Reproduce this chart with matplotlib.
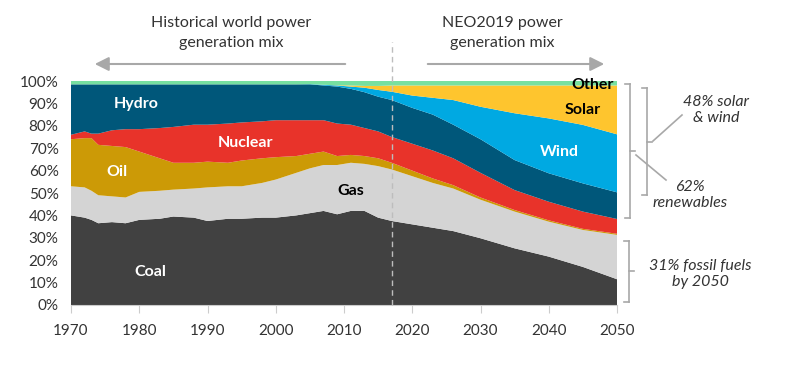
import numpy as np
import matplotlib.pyplot as plt
from matplotlib.lines import Line2D

plt.rcParams['font.family'] = ['Lato', 'DejaVu Sans']

# share of world power generation, %
years = [1970, 1972, 1973, 1974, 1976, 1978, 1980, 1983, 1985, 1988, 1990,
         1993, 1995, 1998, 2000, 2003, 2005, 2007, 2009, 2011, 2013, 2015,
         2017, 2020, 2023, 2026, 2030, 2035, 2040, 2045, 2050]
coal = [40, 39, 38, 36.5, 37, 36.5, 38, 38.5, 39.5, 39, 37.5,
        38.5, 38.5, 39, 39, 40, 41, 42, 40.5, 42, 42, 39,
        37.5, 36, 34.5, 33, 29.8, 25.3, 21.6, 17, 11.5]
gas = [13, 13.5, 13, 12.5, 11.5, 11.5, 12.5, 12.5, 12, 13, 15,
       14.5, 14.5, 15.5, 17, 19, 20, 20.5, 22, 21.5, 21, 23,
       23, 21.5, 20, 19, 17.2, 16.4, 15.6, 16.5, 19.8]
oil = [21, 22, 23.5, 22.5, 22.5, 22.5, 18, 14.5, 12, 11.5, 11.5,
       10.5, 11.5, 11, 10, 7.5, 6.5, 6, 4, 3.5, 3.5, 3.5,
       3, 2.5, 2, 1.5, 1, 0.7, 0.6, 0.5, 0.5]
nuclear = [2, 3, 2, 5, 7, 8, 10, 13.5, 16, 17, 16.5,
           17.5, 17, 16.5, 16.5, 16, 15, 14, 14.5, 13.5, 12.5, 12,
           11.5, 12, 12.5, 12, 11, 8.9, 8.3, 7.7, 6.6]
hydro = [22.5, 21, 22, 22, 20.5, 20, 20, 19.5, 19, 18, 18,
         17.5, 17, 16.5, 16, 16, 16, 15.5, 16.5, 16, 16, 15.5,
         16.5, 16, 16, 15, 15, 13.4, 12.7, 12.6, 11.9]
wind = [0, 0, 0, 0, 0, 0, 0, 0, 0, 0, 0,
        0, 0, 0, 0, 0, 0.1, 0.3, 0.5, 1, 2, 3,
        3.7, 5.5, 7.5, 11, 14.5, 20.9, 24.5, 26.1, 25.9]
solar = [0, 0, 0, 0, 0, 0, 0, 0, 0, 0, 0,
         0, 0, 0, 0, 0, 0, 0, 0.1, 0.5, 0.8, 1.8,
         2.8, 4.5, 5.5, 6.5, 9.5, 12.4, 14.7, 17.6, 21.8]
other = [1.5, 1.5, 1.5, 1.5, 1.5, 1.5, 1.5, 1.5, 1.5, 1.5, 1.5,
         1.5, 1.5, 1.5, 1.5, 1.5, 1.4, 1.7, 1.9, 2, 2.2, 2.2,
         2, 2, 2, 2, 2, 2, 2, 2, 2]

colors = ['#414141', '#d4d4d4', '#cc9a06', '#e8332a', '#00577a',
          '#00a9e2', '#fec52e', '#77e0a0']
text_col = '#333333'
grey = '#a8a8a8'

W, H = 785, 382


def fp(x, y):
    # pixel position (from top left) -> figure fraction
    return x / W, 1 - y / H


fig = plt.figure(figsize=(7.85, 3.82), dpi=100)
ax = fig.add_axes([71 / W, 1 - 305 / H, 546 / W, 224 / H])

ax.stackplot(years, coal, gas, oil, nuclear, hydro, wind, solar, other,
             colors=colors, linewidth=0)
ax.set_xlim(1970, 2050)
ax.set_ylim(0, 100)

ax.set_yticks(range(0, 101, 10))
ax.set_yticklabels([f'{v}%' for v in range(0, 101, 10)])
ax.set_xticks(range(1970, 2051, 10))
ax.tick_params(axis='y', length=0, pad=9, labelsize=11, labelcolor=text_col)
ax.tick_params(axis='x', length=6, color='#cccccc', pad=8, labelsize=11,
               labelcolor=text_col)
for s in ['top', 'right', 'left']:
    ax.spines[s].set_visible(False)
ax.spines['bottom'].set_color('#cccccc')

# projection start
ax.plot([2017, 2017], [0, 117.5], color='#bdbdbd', lw=1, ls=(0, (4, 3)),
        clip_on=False, zorder=5)

# series labels
lab = dict(fontsize=11.5, fontweight='bold', ha='center', va='center')
ax.text(1979.5, 89.7, 'Hydro', color='white', **lab)
ax.text(1995.6, 72.2, 'Nuclear', color='white', **lab)
ax.text(1976.7, 59.5, 'Oil', color='white', **lab)
ax.text(2011, 51, 'Gas', color='black', **lab)
ax.text(1981.6, 14.9, 'Coal', color='white', **lab)
ax.text(2041.5, 68.4, 'Wind', color='white', **lab)
ax.text(2044.9, 87, 'Solar', color='black', **lab)
ax.text(2046.4, 98.2, 'Other', color='black', **lab)

# headers with arrows
hd = dict(fontsize=11.5, color=text_col, ha='center', va='center')
fig.text(*fp(231, 22.5), 'Historical world power', **hd)
fig.text(*fp(231, 43.5), 'generation mix', **hd)
fig.text(*fp(502, 22.5), 'NEO2019 power', **hd)
fig.text(*fp(502, 43.5), 'generation mix', **hd)
arr = dict(arrowstyle='-|>,head_length=0.7,head_width=0.35', color=grey, lw=1.5)
fig.add_artist(plt.matplotlib.patches.FancyArrowPatch(
    fp(348, 64), fp(92, 64), transform=fig.transFigure, mutation_scale=12,
    **arr))
fig.add_artist(plt.matplotlib.patches.FancyArrowPatch(
    fp(425, 64), fp(607, 64), transform=fig.transFigure, mutation_scale=12,
    **arr))


def seg(x0, y0, x1, y1):
    (a, b), (c, d) = fp(x0, y0), fp(x1, y1)
    fig.add_artist(Line2D([a, c], [b, d], color=grey, lw=1.2,
                          transform=fig.transFigure))


def bracket(x, ytop, ybot, ymid):
    seg(x - 5, ytop, x, ytop)
    seg(x, ytop, x, ybot)
    seg(x - 5, ybot, x, ybot)
    seg(x, ymid, x + 5, ymid)


bracket(630, 84, 218, 151)
seg(636, 155, 666, 180)
bracket(647, 88, 195, 142)
seg(653, 141, 682, 115)
bracket(629, 241, 302, 271)

an = dict(fontsize=11.5, color=text_col, ha='center', va='center',
          style='italic')
fig.text(*fp(716, 101.5), '48% solar', **an)
fig.text(*fp(716, 117.5), '& wind', **an)
fig.text(*fp(690, 187), '62%', **an)
fig.text(*fp(690, 203), 'renewables', **an)
fig.text(*fp(700, 266), '31% fossil fuels', **an)
fig.text(*fp(700, 282), 'by 2050', **an)

fig.savefig('out.png', dpi=100)
